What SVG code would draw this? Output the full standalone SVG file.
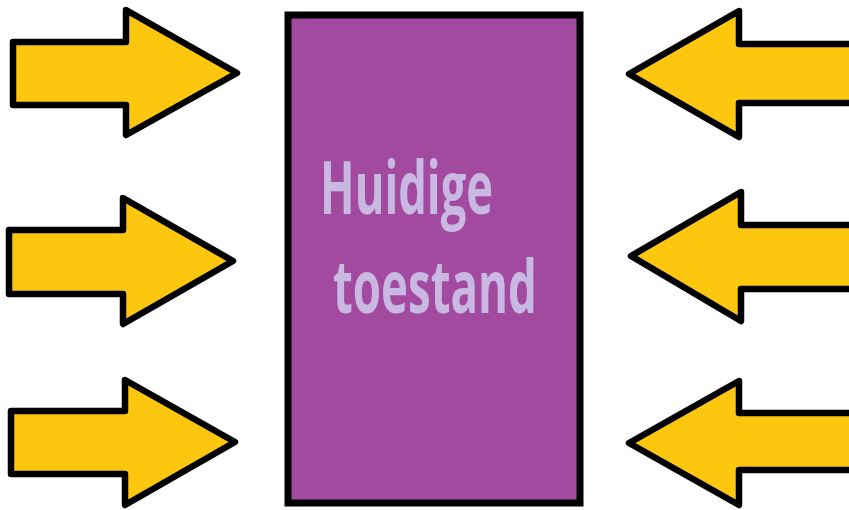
<svg xmlns="http://www.w3.org/2000/svg" width="849" height="510" viewBox="0 0 849 510">
<style>
.arr{fill:#FDC60F;stroke:#000;stroke-width:6.5;stroke-linejoin:round}
.box{fill:#A24A9F;stroke:#000;stroke-width:7}
.lbl{font-family:"Open Sans","Liberation Sans",sans-serif;font-weight:bold;font-size:73px;fill:#C9B8E2}
</style>
<rect width="849" height="510" fill="#fff"/>
<g id="connectors">
<polygon id="arrow-l1" class="arr" points="13,42 126,42 126,10 237,73 126,135 126,105 13,105"/>
<polygon id="arrow-l2" class="arr" points="9,230 123,230 123,198 233,261 123,324 123,294 9,294"/>
<polygon id="arrow-l3" class="arr" points="11,411 125,411 125,380 235,442 125,505 125,474 11,474"/>
<polygon id="arrow-r1" class="arr" points="855,44 739,44 739,11 629,74 739,137 739,103 855,103"/>
<polygon id="arrow-r2" class="arr" points="855,225 741,225 741,192 631,256 741,321 741,289 855,289"/>
<polygon id="arrow-r3" class="arr" points="855,413 739,413 739,381 629,443 739,505 739,470 855,470"/>
</g>
<g id="node-huidige-toestand">
<rect class="box" x="288" y="15" width="292" height="488"/>
<text class="lbl" x="320" y="214" textLength="173" lengthAdjust="spacingAndGlyphs">Huidige</text>
<text class="lbl" x="333" y="313" textLength="204" lengthAdjust="spacingAndGlyphs">toestand</text>
</g>
</svg>
